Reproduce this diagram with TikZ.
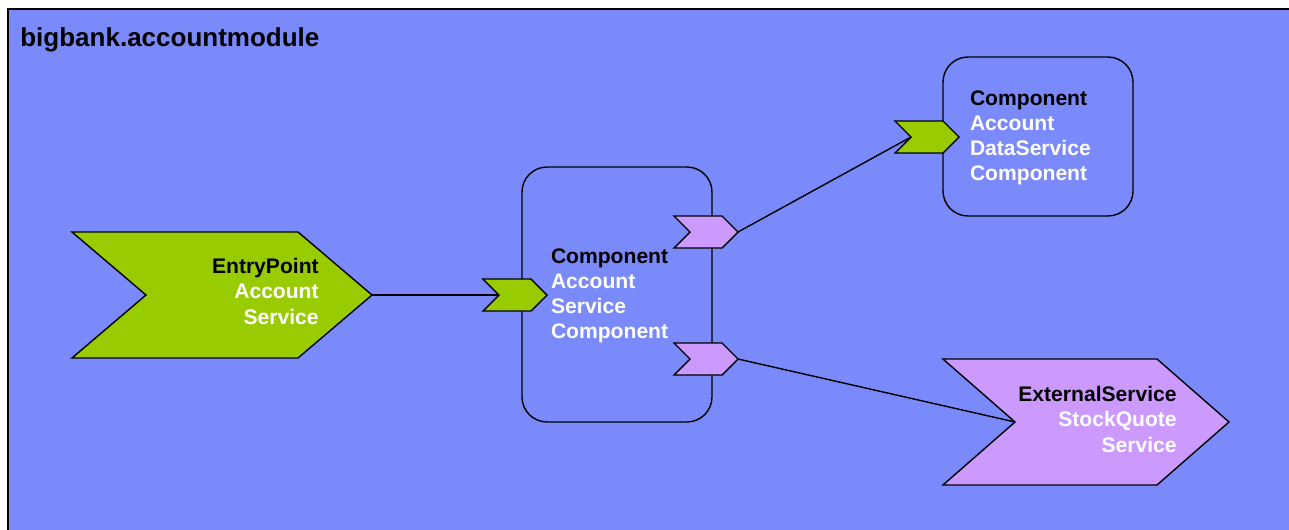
\documentclass[tikz,border=0pt]{standalone}
\usepackage{fontspec}
\setmainfont{Liberation Sans}
\usetikzlibrary{positioning}
\definecolor{modBlue}{RGB}{122,138,250}
\definecolor{epGreen}{RGB}{153,204,0}
\definecolor{refPurple}{RGB}{204,153,255}

% chevron: name, fill, left x, top y, body width, height, point depth
\newcommand{\chevron}[7]{%
  \draw[chev,fill=#2] (#3,#4) -- ++(#5,0) -- ++(#7,#6/2) -- ++(-#7,#6/2)
    -- ++(-#5,0) -- ++(#7,-#6/2) -- cycle;
  \coordinate (#1-tip) at ({#3+#5+#7},{#4+#6/2});
  \coordinate (#1-notch) at ({#3+#7},{#4+#6/2});
}

\begin{document}
\begin{tikzpicture}[x=0.02cm,y=-0.02cm,
  chev/.style={draw=black,line width=0.8pt,line join=miter},
  comp/.style={draw=black,line width=0.8pt,rounded corners=0.5cm,minimum width=3.8cm,
    align=left,inner ysep=0pt,font=\fontsize{12}{14.3}\selectfont\bfseries,text=white},
  lbl/.style={font=\fontsize{12}{14.3}\selectfont\bfseries,text=white,inner sep=0pt,align=right},
  wire/.style={line width=0.8pt}]
\useasboundingbox (0,0) rectangle (1289,529);
\draw[fill=modBlue,line width=1.5pt] (8,9) rectangle (1330,570);
\node[anchor=base west,inner sep=0pt,font=\fontsize{14.8}{17}\selectfont\bfseries] (modname) at (20,46) {bigbank.accountmodule};

% components
\node[comp,minimum height=5.1cm,text width=2.64cm,inner xsep=0.58cm] (acctsvc) at (617,294.5)
  {{\color{black}Component}\strut\\Account\\Service\\Component};
\node[comp,minimum height=3.18cm,text width=2.72cm,inner xsep=0.54cm] (datasvc) at (1038,136.5)
  {{\color{black}Component}\strut\\Account\\DataService\\Component};

% entry point and external service
\chevron{entry}{epGreen}{72}{232}{226}{126}{74}
\node[lbl,anchor=base east] (entrytext) at (319,324) {{\color{black}EntryPoint}\\Account\\Service};
\chevron{stock}{refPurple}{943}{359}{214}{126}{72}
\node[lbl,anchor=base east] (stocktext) at (1177,452) {{\color{black}ExternalService}\\StockQuote\\Service};

% ports
\chevron{svcin}{epGreen}{483}{279}{48}{32}{16}
\chevron{refdata}{refPurple}{674}{216}{48}{32}{16}
\chevron{refstock}{refPurple}{674}{343}{48}{32}{16}
\chevron{datain}{epGreen}{895}{121}{48}{32}{16}

% wires
\draw[wire] (entry-tip) -- (svcin-notch);
\draw[wire] (refdata-tip) -- (datain-notch);
\draw[wire] (refstock-tip) -- (stock-notch);
\end{tikzpicture}
\end{document}
